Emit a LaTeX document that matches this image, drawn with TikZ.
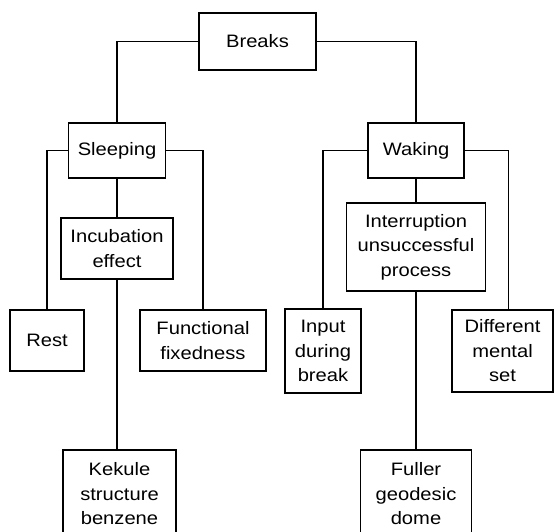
\documentclass[tikz,border=0pt]{standalone}
\usepackage{fontspec}
\setmainfont{Liberation Sans}[FakeStretch=1.12]
\begin{document}
\begin{tikzpicture}[x=1pt,y=-1pt,
  box/.style={draw,line width=1.6pt,inner sep=0pt,align=center,
    font=\fontsize{18}{24.5}\selectfont},
  conn/.style={line width=1.6pt}]
\useasboundingbox (0,0) rectangle (554,531);
\node[box,minimum width=117pt,minimum height=57pt] (breaks) at (257.5,41.5) {Breaks};
\node[box,minimum width=97pt,minimum height=55pt] (sleeping) at (117,150.5) {Sleeping};
\node[box,minimum width=96pt,minimum height=55pt] (waking) at (416,150.5) {Waking};
\node[box,minimum width=112pt,minimum height=61pt] (incubation) at (117,248.5) {Incubation\\effect};
\node[box,minimum width=139pt,minimum height=88pt] (interruption) at (416,247) {Interruption\\unsuccessful\\process};
\node[box,minimum width=74pt,minimum height=61pt] (rest) at (47,340.5) {Rest};
\node[box,minimum width=126pt,minimum height=61pt] (functional) at (203,340.5) {Functional\\fixedness};
\node[box,minimum width=76pt,minimum height=84pt] (input) at (323,351) {Input\\during\\break};
\node[box,minimum width=101pt,minimum height=82pt] (different) at (502.5,351) {Different\\mental\\set};
\node[box,minimum width=113pt,minimum height=88pt] (kekule) at (119.5,494) {Kekule\\structure\\benzene};
\node[box,minimum width=111pt,minimum height=88pt] (fuller) at (416,494) {Fuller\\geodesic\\dome};
\draw[conn] (breaks.west) -| (sleeping.north);
\draw[conn] (breaks.east) -| (waking.north);
\draw[conn] (sleeping.west) -| (rest.north);
\draw[conn] (sleeping.east) -| (functional.north);
\draw[conn] (sleeping.south) -- (incubation.north);
\draw[conn] (incubation.south) -- (incubation.south |- kekule.north);
\draw[conn] (waking.west) -| (input.north);
\draw[conn] (waking.east) -| ([xshift=6pt]different.north);
\draw[conn] (waking.south) -- (waking.south |- interruption.north);
\draw[conn] (interruption.south) -- (interruption.south |- fuller.north);
\end{tikzpicture}
\end{document}
